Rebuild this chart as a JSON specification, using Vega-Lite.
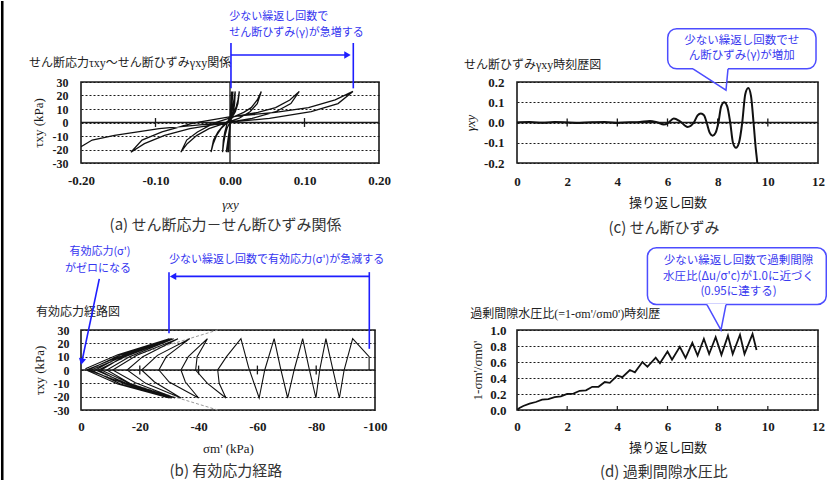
{
 "$schema": "https://vega.github.io/schema/vega-lite/v6.json",
 "padding": 0,
 "background": "white",
 "columns": 2,
 "spacing": {"row": 167, "column": 138},
 "bounds": "flush",
 "config": {
  "view": {"stroke": "#1a1a1a", "strokeWidth": 1.6},
  "axis": {"domain": false, "ticks": false, "grid": false, "labelFont": "Liberation Serif", "labelFontWeight": "bold", "labelFontSize": 13, "labelColor": "#1a1a1a", "titleFont": "Liberation Serif, Noto Sans CJK JP", "titleFontWeight": "normal", "titleFontSize": 13, "titleColor": "#1a1a1a", "gridColor": "#1a1a1a", "gridDash": [2, 2], "gridWidth": 1.1, "gridOpacity": 1, "labelOverlap": false, "labelBound": false, "labelFlush": false}
 },
 "concat": [
  {
   "width": 298, "height": 81,
   "encoding": {
    "x": {"field": "x", "type": "quantitative", "scale": {"domain": [-0.2, 0.2], "nice": false, "zero": false},
     "axis": {"values": [-0.2, -0.1, 0, 0.1, 0.2], "format": ".2f", "labelExpr": "replace(datum.label,'−','-')", "title": "γxy", "titleFontStyle": "italic", "labelPadding": 11, "titlePadding": 11}},
    "y": {"field": "y", "type": "quantitative", "scale": {"domain": [-30, 30], "nice": false, "zero": false},
     "axis": {"values": [-30, -20, -10, 0, 10, 20, 30], "grid": true, "labelFontSize": 12, "labelExpr": "replace(datum.label,'−','-')", "title": "τxy (kPa)", "labelPadding": 13, "titlePadding": 7}}
   },
   "layer": [
    {"data": {"values": [{"x": -0.3074, "x2": -0.304, "y": 90, "y2": -265.6}]}, "mark": {"type": "rect", "color": "#000"}, "encoding": {"x2": {"field": "x2"}, "y2": {"field": "y2"}}},
    {"data": {"values": [{"x": -0.2, "x2": 0.2, "y": 0, "y2": 0}, {"x": 0, "x2": 0, "y": -30, "y2": 30}, {"x": -0.1, "x2": -0.1, "y": -3.3, "y2": 3.3}, {"x": 0.1, "x2": 0.1, "y": -3.3, "y2": 3.3}]}, "mark": {"type": "rule", "color": "#1a1a1a", "strokeWidth": 1.3}, "encoding": {"x2": {"field": "x2"}, "y2": {"field": "y2"}}},
    {"data": {"values": [
      {"x": 0, "y": 0}, {"x": 0.001, "y": 12}, {"x": 0.002, "y": 23},
      {"x": 0.0005, "y": 0}, {"x": -0.002, "y": -22},
      {"x": 0.0003, "y": 0}, {"x": 0.003, "y": 23},
      {"x": 0.0005, "y": 0}, {"x": -0.003, "y": -22},
      {"x": 0.0005, "y": 0}, {"x": 0.004, "y": 23},
      {"x": 0.0005, "y": 0}, {"x": -0.005, "y": -22},
      {"x": 0.0005, "y": 0}, {"x": 0.007, "y": 23},
      {"x": 0.0062, "y": 14}, {"x": 0.0046, "y": 8}, {"x": 0.0022, "y": 3}, {"x": -0.0007, "y": -0.5}, {"x": -0.0041, "y": -4.5}, {"x": -0.0066, "y": -9.5}, {"x": -0.0086, "y": -15.7}, {"x": -0.01, "y": -22},
      {"x": -0.0089, "y": -13}, {"x": -0.0069, "y": -7}, {"x": -0.0037, "y": -0.5}, {"x": 0.0001, "y": 4.3}, {"x": 0.0046, "y": 7.5}, {"x": 0.008, "y": 11}, {"x": 0.0107, "y": 16.7}, {"x": 0.0125, "y": 23},
      {"x": 0.0106, "y": 14}, {"x": 0.0072, "y": 8}, {"x": 0.0019, "y": 3}, {"x": -0.0046, "y": -0.5}, {"x": -0.012, "y": -4.5}, {"x": -0.0179, "y": -9.5}, {"x": -0.0225, "y": -15.7}, {"x": -0.0255, "y": -22},
      {"x": -0.0221, "y": -13}, {"x": -0.0161, "y": -7}, {"x": -0.0066, "y": -0.5}, {"x": 0.0049, "y": 4.3}, {"x": 0.0184, "y": 7.5}, {"x": 0.0285, "y": 11}, {"x": 0.0366, "y": 16.7}, {"x": 0.042, "y": 23},
      {"x": 0.0366, "y": 14}, {"x": 0.0269, "y": 8}, {"x": 0.0118, "y": 3}, {"x": -0.0066, "y": -0.5}, {"x": -0.0282, "y": -4.5}, {"x": -0.0444, "y": -9.5}, {"x": -0.0574, "y": -15.7}, {"x": -0.066, "y": -22},
      {"x": -0.0581, "y": -13}, {"x": -0.0437, "y": -7}, {"x": -0.0215, "y": -0.5}, {"x": 0.0056, "y": 4.3}, {"x": 0.0374, "y": 7.5}, {"x": 0.0612, "y": 11}, {"x": 0.0803, "y": 16.7}, {"x": 0.093, "y": 23},
      {"x": 0.0817, "y": 14}, {"x": 0.0614, "y": 8}, {"x": 0.0297, "y": 3}, {"x": -0.0087, "y": -0.5}, {"x": -0.0539, "y": -4.5}, {"x": -0.0878, "y": -9.5}, {"x": -0.1149, "y": -15.7}, {"x": -0.133, "y": -22},
      {"x": -0.1181, "y": -13}, {"x": -0.0913, "y": -7}, {"x": -0.0496, "y": -0.5}, {"x": 0.0011, "y": 4.3}, {"x": 0.0607, "y": 7.5}, {"x": 0.1054, "y": 11}, {"x": 0.1412, "y": 16.7}, {"x": 0.165, "y": 23},
      {"x": 0.145, "y": 14}, {"x": 0.109, "y": 8}, {"x": 0.053, "y": 3}, {"x": -0.015, "y": -0.5}, {"x": -0.095, "y": -4.5}, {"x": -0.155, "y": -9.5}, {"x": -0.185, "y": -13}, {"x": -0.2, "y": -18}
     ]}, "mark": {"type": "line", "color": "#111", "strokeWidth": 1.3, "clip": true}, "encoding": {"order": {"value": null}}},
    {"data": {"values": [{"x": -0.2698, "y": 44.1, "t": "せん断応力τxy～せん断ひずみγxy関係"}]}, "mark": {"type": "text", "align": "left", "baseline": "middle", "font": "Liberation Serif, Noto Sans CJK JP", "fontSize": 12, "color": "#222"}, "encoding": {"text": {"field": "t"}}},
    {"data": {"values": [{"x": -0.001, "y": 78.1, "t": "少ない繰返し回数で"}, {"x": -0.001, "y": 66.3, "t": "せん断ひずみ(γ)が急増する"}]}, "mark": {"type": "text", "align": "left", "baseline": "middle", "font": "Noto Sans CJK JP", "fontSize": 11, "color": "#3535f0"}, "encoding": {"text": {"field": "t"}}},
    {"data": {"values": [{"x": 0.0013, "x2": 0.0013, "y": 58.9, "y2": 25.3}, {"x": 0.1655, "x2": 0.1655, "y": 58.9, "y2": 25.3}, {"x": 0.0013, "x2": 0.157, "y": 50, "y2": 50}]}, "mark": {"type": "rule", "color": "#1e1eff", "strokeWidth": 1.6}, "encoding": {"x2": {"field": "x2"}, "y2": {"field": "y2"}}},
    {"data": {"values": [{"x": 0.1577, "y": 50}]}, "mark": {"type": "point", "shape": "triangle-right", "filled": true, "size": 55, "color": "#1e1eff", "opacity": 1}},
    {"data": {"values": [{"x": -0.006, "y": -75.9, "t": "(a) せん断応力－せん断ひずみ関係"}]}, "mark": {"type": "text", "align": "center", "baseline": "middle", "font": "Noto Sans CJK JP", "fontSize": 15, "color": "#333"}, "encoding": {"text": {"field": "t"}}}
   ]
  },
  {
   "width": 301, "height": 81,
   "encoding": {
    "x": {"field": "x", "type": "quantitative", "scale": {"domain": [0, 12], "nice": false, "zero": false},
     "axis": {"values": [0, 2, 4, 6, 8, 10, 12], "format": "d", "title": "操り返し回数", "labelPadding": 12, "titlePadding": 8}},
    "y": {"field": "y", "type": "quantitative", "scale": {"domain": [-0.2, 0.2], "nice": false, "zero": false},
     "axis": {"values": [-0.2, -0.1, 0, 0.1, 0.2], "format": ".1f", "grid": true, "labelExpr": "replace(datum.label,'−','-')", "title": "γxy", "titleFontStyle": "italic", "labelPadding": 13, "titlePadding": 6}}
   },
   "layer": [
    {"data": {"values": [{"x": 0, "x2": 12, "y": 0, "y2": 0}, {"x": 2, "x2": 2, "y": -0.02, "y2": 0.02}, {"x": 4, "x2": 4, "y": -0.02, "y2": 0.02}, {"x": 6, "x2": 6, "y": -0.02, "y2": 0.02}, {"x": 8, "x2": 8, "y": -0.02, "y2": 0.02}, {"x": 10, "x2": 10, "y": -0.02, "y2": 0.02}]}, "mark": {"type": "rule", "color": "#1a1a1a", "strokeWidth": 1.3}, "encoding": {"x2": {"field": "x2"}, "y2": {"field": "y2"}}},
    {"data": {"values": [
      {"x": 0, "y": 0}, {"x": 0.5, "y": 0.002}, {"x": 1, "y": -0.001}, {"x": 1.5, "y": 0.002}, {"x": 2, "y": 0}, {"x": 2.5, "y": -0.002}, {"x": 3, "y": 0.001}, {"x": 3.5, "y": 0.003}, {"x": 4, "y": -0.002}, {"x": 4.5, "y": 0.001}, {"x": 4.9, "y": 0.003},
      {"x": 5.3, "y": 0.008}, {"x": 5.6, "y": 0}, {"x": 5.85, "y": -0.01}, {"x": 6.02, "y": -0.003}, {"x": 6.25, "y": 0.02}, {"x": 6.5, "y": 0.006}, {"x": 6.8, "y": -0.022}, {"x": 7.05, "y": 0},
      {"x": 7.2, "y": 0.035}, {"x": 7.33, "y": 0.045}, {"x": 7.46, "y": 0.035}, {"x": 7.56, "y": 0}, {"x": 7.68, "y": -0.05}, {"x": 7.8, "y": -0.065}, {"x": 7.92, "y": -0.05}, {"x": 8.03, "y": 0},
      {"x": 8.14, "y": 0.08}, {"x": 8.26, "y": 0.1}, {"x": 8.38, "y": 0.08}, {"x": 8.5, "y": 0}, {"x": 8.61, "y": -0.1}, {"x": 8.73, "y": -0.125}, {"x": 8.85, "y": -0.1}, {"x": 8.98, "y": 0},
      {"x": 9.1, "y": 0.14}, {"x": 9.22, "y": 0.17}, {"x": 9.33, "y": 0.13}, {"x": 9.43, "y": 0}, {"x": 9.52, "y": -0.13}, {"x": 9.58, "y": -0.2}, {"x": 9.62, "y": -0.26}
     ]}, "mark": {"type": "line", "color": "#111", "strokeWidth": 2, "interpolate": "monotone", "clip": true}},
    {"data": {"values": [{"x": -2.113, "y": 0.283, "t": "せん断ひずみγxy時刻歴図"}]}, "mark": {"type": "text", "align": "left", "baseline": "middle", "font": "Liberation Serif, Noto Sans CJK JP", "fontSize": 12, "color": "#222"}, "encoding": {"text": {"field": "t"}}},
    {"data": {"values": [{"x": 6.008, "x2": 11.921, "y": 0.4634, "y2": 0.2649}]}, "mark": {"type": "rect", "fill": "white", "stroke": "#4d4dff", "strokeWidth": 1.5, "cornerRadius": 9}, "encoding": {"x2": {"field": "x2"}, "y2": {"field": "y2"}}},
    {"data": {"values": [{"x": 7.017, "y": 0.272, "y2": 0.2649}, {"x": 7.827, "y": 0.272, "y2": 0.2}, {"x": 8.363, "y": 0.272, "y2": 0.2}, {"x": 8.412, "y": 0.272, "y2": 0.2649}]}, "mark": {"type": "area", "color": "white", "opacity": 1}, "encoding": {"y2": {"field": "y2"}}},
    {"data": {"values": [{"x": 7.017, "y": 0.2649}, {"x": 8.332, "y": 0.1595}, {"x": 8.412, "y": 0.2649}]}, "mark": {"type": "line", "color": "#4d4dff", "strokeWidth": 1.5, "strokeJoin": "miter"}},
    {"data": {"values": [{"x": 8.962, "y": 0.4034, "t": "少ない繰返し回数でせ"}, {"x": 8.962, "y": 0.3302, "t": "ん断ひずみ(γ)が増加"}]}, "mark": {"type": "text", "align": "center", "baseline": "middle", "font": "Noto Sans CJK JP", "fontSize": 11.5, "color": "#3a3aef"}, "encoding": {"text": {"field": "t"}}},
    {"data": {"values": [{"x": 5.86, "y": -0.522, "t": "(c) せん断ひずみ"}]}, "mark": {"type": "text", "align": "center", "baseline": "middle", "font": "Noto Sans CJK JP", "fontSize": 15, "color": "#333"}, "encoding": {"text": {"field": "t"}}}
   ]
  },
  {
   "width": 294, "height": 80,
   "encoding": {
    "x": {"field": "x", "type": "quantitative", "scale": {"domain": [0, -100], "nice": false, "zero": false},
     "axis": {"values": [0, -20, -40, -60, -80, -100], "format": "d", "labelExpr": "replace(datum.label,'−','-')", "title": "σm' (kPa)", "labelPadding": 10, "titlePadding": 9}},
    "y": {"field": "y", "type": "quantitative", "scale": {"domain": [-30, 30], "nice": false, "zero": false},
     "axis": {"values": [-30, -20, -10, 0, 10, 20, 30], "grid": true, "labelFontSize": 12, "labelExpr": "replace(datum.label,'−','-')", "title": "τxy (kPa)", "labelPadding": 12, "titlePadding": 7}}
   },
   "layer": [
    {"data": {"values": [{"x": 0, "x2": -100, "y": 0, "y2": 0}, {"x": -20, "x2": -20, "y": -3.3, "y2": 3.3}, {"x": -40, "x2": -40, "y": -3.3, "y2": 3.3}, {"x": -60, "x2": -60, "y": -3.3, "y2": 3.3}, {"x": -80, "x2": -80, "y": -3.3, "y2": 3.3}]}, "mark": {"type": "rule", "color": "#1a1a1a", "strokeWidth": 1.3}, "encoding": {"x2": {"field": "x2"}, "y2": {"field": "y2"}}},
    {"data": {"values": [{"x": -1.7, "x2": -46.5, "y": 0, "y2": 30}, {"x": -1.7, "x2": -46.5, "y": 0, "y2": -30}]}, "mark": {"type": "rule", "color": "#999", "strokeWidth": 1, "strokeDash": [3, 2]}, "encoding": {"x2": {"field": "x2"}, "y2": {"field": "y2"}}},
    {"data": {"values": [
      {"x": -98, "y": 0}, {"x": -98, "y": 10}, {"x": -92.4, "y": 23.5}, {"x": -89.5, "y": 0}, {"x": -87.9, "y": -21}, {"x": -85.5, "y": 2}, {"x": -83.3, "y": 23.5}, {"x": -81.2, "y": 0}, {"x": -79.9, "y": -21}, {"x": -77.5, "y": 2}, {"x": -75.4, "y": 23.5}, {"x": -72.5, "y": 0}, {"x": -70.3, "y": -21}, {"x": -67.8, "y": 2}, {"x": -65.7, "y": 23.5}, {"x": -62.5, "y": 0}, {"x": -60.6, "y": -21}, {"x": -57, "y": 2}, {"x": -54.4, "y": 23.5},
      {"x": -49.5, "y": 10}, {"x": -46.5, "y": 0}, {"x": -47, "y": -10}, {"x": -49.3, "y": -21},
      {"x": -43, "y": -10}, {"x": -39, "y": 0}, {"x": -39.5, "y": 10}, {"x": -43, "y": 23.5},
      {"x": -36.5, "y": 10}, {"x": -34, "y": 0}, {"x": -35.5, "y": -9}, {"x": -40, "y": -21},
      {"x": -30, "y": -9}, {"x": -26.5, "y": 0}, {"x": -29, "y": 10}, {"x": -37, "y": 23.5},
      {"x": -26, "y": 11}, {"x": -20.6, "y": 0}, {"x": -25, "y": -9}, {"x": -34, "y": -21},
      {"x": -22, "y": -10}, {"x": -15.7, "y": 0}, {"x": -21, "y": 10}, {"x": -33, "y": 23.5},
      {"x": -19, "y": 11}, {"x": -10.8, "y": 0}, {"x": -18.5, "y": -9.5}, {"x": -32, "y": -21},
      {"x": -17, "y": -10.5}, {"x": -8.8, "y": 0}, {"x": -16.5, "y": 10}, {"x": -31.5, "y": 23.5},
      {"x": -15.5, "y": 11.5}, {"x": -6.9, "y": 0}, {"x": -16, "y": -9.5}, {"x": -31, "y": -21},
      {"x": -15, "y": -10.5}, {"x": -5.9, "y": 0}, {"x": -15, "y": 10}, {"x": -31, "y": 23.5},
      {"x": -14.5, "y": 11.5}, {"x": -4.9, "y": 0}, {"x": -15, "y": -9.5}, {"x": -30.5, "y": -21},
      {"x": -13.5, "y": -10.5}, {"x": -3.5, "y": 0}, {"x": -14, "y": 10}, {"x": -30.5, "y": 23.5},
      {"x": -13.5, "y": 11.5}, {"x": -2.5, "y": 0}, {"x": -14, "y": -9.5}, {"x": -30, "y": -21},
      {"x": -12.5, "y": -10.5}, {"x": -1.8, "y": 0}, {"x": -13, "y": 10}, {"x": -30, "y": 23.5},
      {"x": -12.5, "y": 11.5}, {"x": -1.5, "y": 1}
     ]}, "mark": {"type": "line", "color": "#111", "strokeWidth": 1.1, "clip": true}, "encoding": {"order": {"value": null}}},
    {"data": {"values": [{"x": 15.3, "y": 43.6, "t": "有効応力経路図"}]}, "mark": {"type": "text", "align": "left", "baseline": "middle", "font": "Liberation Serif, Noto Sans CJK JP", "fontSize": 12, "color": "#222"}, "encoding": {"text": {"field": "t"}}},
    {"data": {"values": [{"x": -6.46, "y": 88.8, "t": "有効応力(σ')"}, {"x": -5.78, "y": 76.0, "t": "がゼロになる"}]}, "mark": {"type": "text", "align": "center", "baseline": "middle", "font": "Noto Sans CJK JP", "fontSize": 11, "color": "#3535f0"}, "encoding": {"text": {"field": "t"}}},
    {"data": {"values": [{"x": -29.93, "y": 82.4, "t": "少ない繰返し回数で有効応力(σ')が急減する"}]}, "mark": {"type": "text", "align": "left", "baseline": "middle", "font": "Noto Sans CJK JP", "fontSize": 11, "color": "#3535f0"}, "encoding": {"text": {"field": "t"}}},
    {"data": {"values": [{"x": -6.22, "x2": -0.29, "y": 68.3, "y2": 6.2}, {"x": -31.3, "x2": -98.06, "y": 70.2, "y2": 70.2}, {"x": -29.93, "x2": -29.93, "y": 73.4, "y2": 27.5}, {"x": -98.06, "x2": -98.06, "y": 73.4, "y2": 15.9}]}, "mark": {"type": "rule", "color": "#1e1eff", "strokeWidth": 1.6}, "encoding": {"x2": {"field": "x2"}, "y2": {"field": "y2"}}},
    {"data": {"values": [{"x": -31.3, "y": 70.2}]}, "mark": {"type": "point", "shape": "triangle-left", "filled": true, "size": 55, "color": "#1e1eff", "opacity": 1}},
    {"data": {"values": [{"x": -0.29, "y": 6.2}]}, "mark": {"type": "point", "shape": "triangle-down", "angle": 12, "filled": true, "size": 55, "color": "#1e1eff", "opacity": 1}},
    {"data": {"values": [{"x": -49.3, "y": -75.6, "t": "(b) 有効応力経路"}]}, "mark": {"type": "text", "align": "center", "baseline": "middle", "font": "Noto Sans CJK JP", "fontSize": 15, "color": "#333"}, "encoding": {"text": {"field": "t"}}}
   ]
  },
  {
   "width": 301, "height": 80,
   "encoding": {
    "x": {"field": "x", "type": "quantitative", "scale": {"domain": [0, 12], "nice": false, "zero": false},
     "axis": {"values": [0, 2, 4, 6, 8, 10, 12], "format": "d", "title": "操り返し回数", "labelPadding": 10, "titlePadding": 8}},
    "y": {"field": "y", "type": "quantitative", "scale": {"domain": [0, 1], "nice": false, "zero": false},
     "axis": {"values": [0, 0.2, 0.4, 0.6, 0.8, 1.0], "format": ".1f", "grid": true, "title": "1-σm'/σm0'", "labelPadding": 11, "titlePadding": 5}}
   },
   "layer": [
    {"data": {"values": [{"x": 2, "x2": 2, "y": 0, "y2": 0.05}, {"x": 4, "x2": 4, "y": 0, "y2": 0.05}, {"x": 6, "x2": 6, "y": 0, "y2": 0.05}, {"x": 8, "x2": 8, "y": 0, "y2": 0.05}, {"x": 10, "x2": 10, "y": 0, "y2": 0.05}]}, "mark": {"type": "rule", "color": "#1a1a1a", "strokeWidth": 1.2}, "encoding": {"x2": {"field": "x2"}, "y2": {"field": "y2"}}},
    {"data": {"values": [
      {"x": 0, "y": 0}, {"x": 0.1, "y": 0.025}, {"x": 0.25, "y": 0.05}, {"x": 0.5, "y": 0.08}, {"x": 0.75, "y": 0.1}, {"x": 1.0, "y": 0.13}, {"x": 1.25, "y": 0.135}, {"x": 1.5, "y": 0.16}, {"x": 1.75, "y": 0.17}, {"x": 2.0, "y": 0.2}, {"x": 2.25, "y": 0.205}, {"x": 2.5, "y": 0.24}, {"x": 2.75, "y": 0.245}, {"x": 3.0, "y": 0.29}, {"x": 3.25, "y": 0.29}, {"x": 3.5, "y": 0.35}, {"x": 3.7, "y": 0.34}, {"x": 4.0, "y": 0.43}, {"x": 4.2, "y": 0.41}, {"x": 4.5, "y": 0.5}, {"x": 4.7, "y": 0.47}, {"x": 5.0, "y": 0.6}, {"x": 5.2, "y": 0.54}, {"x": 5.53, "y": 0.655}, {"x": 5.7, "y": 0.585}, {"x": 6.0, "y": 0.73}, {"x": 6.18, "y": 0.63}, {"x": 6.49, "y": 0.79}, {"x": 6.72, "y": 0.65}, {"x": 6.99, "y": 0.84}, {"x": 7.2, "y": 0.68}, {"x": 7.45, "y": 0.89}, {"x": 7.66, "y": 0.7}, {"x": 7.92, "y": 0.91}, {"x": 8.15, "y": 0.69}, {"x": 8.41, "y": 0.93}, {"x": 8.6, "y": 0.7}, {"x": 8.89, "y": 0.94}, {"x": 9.07, "y": 0.7}, {"x": 9.39, "y": 0.95}, {"x": 9.55, "y": 0.75}
     ]}, "mark": {"type": "line", "color": "#111", "strokeWidth": 1.8, "clip": true}},
    {"data": {"values": [{"x": -1.868, "y": 1.2027, "t": "過剰間隙水圧比(=1-σm'/σm0')時刻歴"}]}, "mark": {"type": "text", "align": "left", "baseline": "middle", "font": "Liberation Serif, Noto Sans CJK JP", "fontSize": 12, "color": "#222"}, "encoding": {"text": {"field": "t"}}},
    {"data": {"values": [{"x": 5.2, "x2": 12.33, "y": 2.0286, "y2": 1.3184}]}, "mark": {"type": "rect", "fill": "white", "stroke": "#4d4dff", "strokeWidth": 1.5, "cornerRadius": 9}, "encoding": {"x2": {"field": "x2"}, "y2": {"field": "y2"}}},
    {"data": {"values": [{"x": 7.572, "y": 1.325, "y2": 1.3184}, {"x": 8.132, "y": 1.325, "y2": 1.0}, {"x": 8.332, "y": 1.325, "y2": 1.3184}]}, "mark": {"type": "area", "color": "white", "opacity": 1}, "encoding": {"y2": {"field": "y2"}}},
    {"data": {"values": [{"x": 7.572, "y": 1.3184}, {"x": 8.132, "y": 1.0}, {"x": 8.332, "y": 1.3184}]}, "mark": {"type": "line", "color": "#4d4dff", "strokeWidth": 1.5, "strokeJoin": "miter"}},
    {"data": {"values": [{"x": 8.832, "y": 1.865, "t": "少ない繰返し回数で過剰間隙"}, {"x": 8.832, "y": 1.665, "t": "水圧比(Δu/σ'c)が1.0に近づく"}, {"x": 8.832, "y": 1.47, "t": "(0.95に達する)"}]}, "mark": {"type": "text", "align": "center", "baseline": "middle", "font": "Noto Sans CJK JP", "fontSize": 11.5, "color": "#3a3aef"}, "encoding": {"text": {"field": "t"}}},
    {"data": {"values": [{"x": 5.852, "y": -0.775, "t": "(d) 過剰間隙水圧比"}]}, "mark": {"type": "text", "align": "center", "baseline": "middle", "font": "Noto Sans CJK JP", "fontSize": 15, "color": "#333"}, "encoding": {"text": {"field": "t"}}}
   ]
  }
 ]
}
